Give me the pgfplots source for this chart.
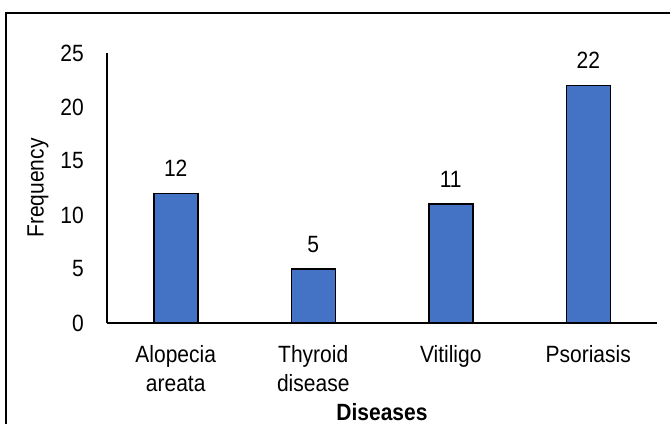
\documentclass[border=0pt]{standalone}
\usepackage{fontspec}
\setmainfont{Liberation Sans}
\usepackage{pgfplots}
\pgfplotsset{compat=1.18}
\definecolor{barblue}{HTML}{4472C4}
\begin{document}
\fontsize{21}{29}\selectfont
\begin{tikzpicture}[x=1pt,y=1pt]
\useasboundingbox (0pt,0pt) rectangle (670pt,424pt);
\draw[line width=1.5pt] (6pt,0pt) -- (6pt,411pt) -- (670pt,411pt);
\begin{axis}[
  at={(107pt,101pt)}, anchor=south west,
  scale only axis, width=550pt, height=270pt,
  xmin=-0.5, xmax=3.5, ymin=0, ymax=25,
  ytick={0,5,10,15,20,25},
  xtick={0,1,2,3},
  xticklabels={{Alopecia\\areata},{Thyroid\\disease},{Vitiligo},{Psoriasis}},
  xticklabel style={align=center, font=\fontsize{21}{26}\selectfont, yshift=-14pt, yscale=1.12},
  yticklabel style={font=\fontsize{21}{29}\selectfont, xshift=-16pt, yscale=1.12},
  /pgf/number format/assume math mode=true,
  axis x line*=bottom, axis y line*=left,
  axis line style={line width=1.5pt, black},
  major tick length=0pt,
  ylabel={Frequency},
  xlabel={\bfseries Diseases},
  every axis y label/.style={at={(axis description cs:-0.1255,0.5)}, rotate=90, yscale=1.12, anchor=center, font=\fontsize{21}{29}\selectfont},
  every axis x label/.style={at={(axis description cs:0.5,-0.3593)}, anchor=base, yscale=1.12, font=\fontsize{21}{29}\selectfont},
  ybar, bar width=44pt,
  nodes near coords,
  every node near coord/.append style={anchor=base, yshift=17pt, yscale=1.12, font=\fontsize{21}{29}\selectfont},
]
\addplot[fill=barblue, draw=black, line width=1.5pt] coordinates {(0,12) (1,5) (2,11) (3,22)};
\end{axis}
\end{tikzpicture}
\end{document}
